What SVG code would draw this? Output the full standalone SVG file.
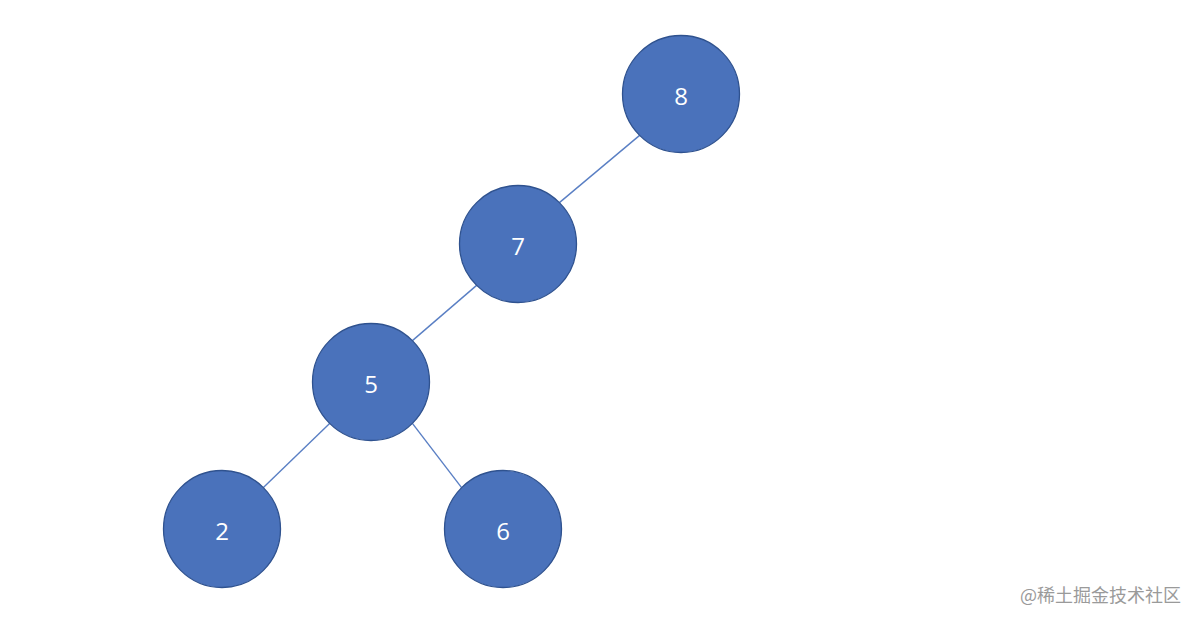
<svg xmlns="http://www.w3.org/2000/svg" width="1200" height="624" viewBox="0 0 1200 624">
<style>
.n circle{fill:#4A72BB;stroke:#2F528F;stroke-width:1.3}
.n text{fill:#fff;font-family:"Open Sans","Liberation Sans",sans-serif;font-size:24px;text-anchor:middle;dominant-baseline:central}
.e line{stroke:#5A7FC4;stroke-width:1.4}
.wm{fill:#9a9a9a;font-family:"Noto Sans CJK SC","Liberation Sans",sans-serif;font-size:18px}
</style>
<rect width="1200" height="624" fill="#fff"/>
<g id="connectors" class="e">
<line x1="639.6" y1="135.4" x2="559.4" y2="202.6"/>
<line x1="476.6" y1="285.4" x2="412.4" y2="340.6"/>
<line x1="329.6" y1="423.4" x2="263.4" y2="487.6"/>
<line x1="412.4" y1="423.4" x2="461.6" y2="487.6"/>
</g>
<g id="node8" class="n"><circle cx="681" cy="94" r="58.5"/><text x="681" y="95">8</text></g>
<g id="node7" class="n"><circle cx="518" cy="244" r="58.5"/><text x="518" y="245">7</text></g>
<g id="node5" class="n"><circle cx="371" cy="382" r="58.5"/><text x="371" y="383">5</text></g>
<g id="node2" class="n"><circle cx="222" cy="529" r="58.5"/><text x="222" y="530">2</text></g>
<g id="node6" class="n"><circle cx="503" cy="529" r="58.5"/><text x="503" y="530">6</text></g>
<text class="wm" x="1020" y="602">@稀土掘金技术社区</text>
</svg>
